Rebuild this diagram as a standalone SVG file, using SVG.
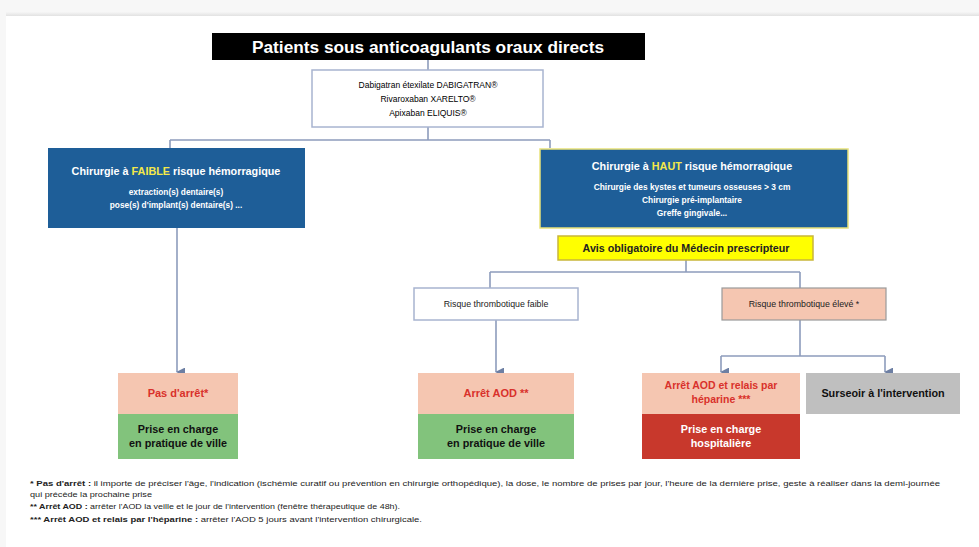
<svg xmlns="http://www.w3.org/2000/svg" width="979" height="547" viewBox="0 0 979 547">
<defs>
<linearGradient id="sh" x1="0" y1="0" x2="0" y2="1"><stop offset="0" stop-color="#f6f6f6"/><stop offset="1" stop-color="#d8d8d8"/></linearGradient>
<marker id="ar" viewBox="0 0 10 10" refX="5" refY="9" markerWidth="9" markerHeight="9" orient="auto-start-reverse" markerUnits="userSpaceOnUse"><path d="M0,0 L10,0 L5,10 Z" fill="#6d7fa3"/></marker>
<style>
text{font-family:"Liberation Sans",Arial,sans-serif;text-anchor:middle}
.b{font-weight:bold}
.w{fill:#ffffff}
.blue{fill:#1e5e98}
.sal{fill:#f5c6b1}
.grn{fill:#82c37c}
.c{fill:none;stroke:#8d9cbc;stroke-width:1.6}
.fn{text-anchor:start;font-size:8px;fill:#222}
</style>
</defs>
<rect width="979" height="547" fill="#f7f7f7"/>
<rect x="6" y="12" width="973" height="6" fill="url(#sh)"/>
<rect x="6" y="16" width="973" height="531" fill="#ffffff"/>

<g id="connectors">
<path class="c" d="M428,60 V70"/>
<path class="c" d="M428,127 V140 M170,140 H550 M170,140 V148 M550,140 V148"/>
<path class="c" d="M177,228 V372" marker-end="url(#ar)"/>
<path class="c" d="M686,260 V272 M490,272 H800 M490,272 V288 M800,272 V288"/>
<path class="c" d="M496,320 V372" marker-end="url(#ar)"/>
<path class="c" d="M800,320 V356 M721,356 H885"/>
<path class="c" d="M721,356 V372" marker-end="url(#ar)"/>
<path class="c" d="M885,356 V372" marker-end="url(#ar)"/>
</g>

<g id="title">
<rect x="212" y="33" width="433" height="27" fill="#000"/>
<text x="428" y="52.5" class="b w" font-size="16" font-weight="900" textLength="352" lengthAdjust="spacingAndGlyphs">Patients sous anticoagulants oraux directs</text>
</g>

<g id="drugs">
<rect x="312" y="70" width="231" height="57" fill="#fff" stroke="#a8b4d0" stroke-width="1.5"/>
<text x="428" y="88" font-size="8.5">Dabigatran étexilate DABIGATRAN®</text>
<text x="428" y="102" font-size="8.5">Rivaroxaban XARELTO®</text>
<text x="428" y="116" font-size="8.5">Apixaban ELIQUIS®</text>
</g>

<g id="faible">
<rect x="48" y="148" width="257" height="80" class="blue"/>
<text x="176" y="175" class="b w" font-size="10.8">Chirurgie à <tspan fill="#f3e84a">FAIBLE</tspan> risque hémorragique</text>
<text x="176" y="195" class="b w" font-size="8.3">extraction(s) dentaire(s)</text>
<text x="176" y="208" class="b w" font-size="8.3">pose(s) d'implant(s) dentaire(s) ...</text>
</g>

<g id="haut">
<rect x="540" y="149" width="308" height="79" class="blue" stroke="#e9e27a" stroke-width="1.5"/>
<text x="692" y="170" class="b w" font-size="10.8">Chirurgie à <tspan fill="#f3e84a">HAUT</tspan> risque hémorragique</text>
<text x="692" y="190" class="b w" font-size="8.4">Chirurgie des kystes et tumeurs osseuses &gt; 3 cm</text>
<text x="692" y="203" class="b w" font-size="8.4">Chirurgie pré-implantaire</text>
<text x="692" y="216" class="b w" font-size="8.4">Greffe gingivale...</text>
</g>

<g id="avis">
<rect x="558" y="236" width="255" height="24" fill="#ffff00" stroke="#c9b63a" stroke-width="1.5"/>
<text x="686" y="252" class="b" font-size="10.7" fill="#222">Avis obligatoire du Médecin prescripteur</text>
</g>

<g id="rfaible">
<rect x="414" y="288" width="164" height="32" fill="#fff" stroke="#a8b4d0" stroke-width="1.5"/>
<text x="496" y="307" font-size="8.8" fill="#222">Risque thrombotique faible</text>
</g>

<g id="releve">
<rect x="722" y="288" width="164" height="32" class="sal" stroke="#9a9a9a" stroke-width="1.2"/>
<text x="804" y="307" font-size="8.8" fill="#222">Risque thrombotique élevé *</text>
</g>

<g id="pasarret">
<rect x="118" y="373" width="120" height="41" class="sal"/>
<rect x="118" y="414" width="120" height="45" class="grn"/>
<text x="178" y="397" class="b" font-size="11" fill="#d9312b">Pas d'arrêt*</text>
<text x="178" y="433" class="b" font-size="10.8" fill="#111">Prise en charge</text>
<text x="178" y="447" class="b" font-size="10.8" fill="#111">en pratique de ville</text>
</g>

<g id="arretaod">
<rect x="418" y="373" width="156" height="41" class="sal"/>
<rect x="418" y="414" width="156" height="45" class="grn"/>
<text x="496" y="397" class="b" font-size="11" fill="#d9312b">Arrêt AOD **</text>
<text x="496" y="433" class="b" font-size="10.8" fill="#111">Prise en charge</text>
<text x="496" y="447" class="b" font-size="10.8" fill="#111">en pratique de ville</text>
</g>

<g id="relais">
<rect x="642" y="373" width="158" height="41" class="sal"/>
<rect x="642" y="414" width="158" height="45" fill="#c8382c"/>
<text x="721" y="389" class="b" font-size="10.5" fill="#d9312b">Arrêt AOD et relais par</text>
<text x="721" y="403" class="b" font-size="10.5" fill="#d9312b">héparine ***</text>
<text x="721" y="433" class="b w" font-size="10.8">Prise en charge</text>
<text x="721" y="447" class="b w" font-size="10.8">hospitalière</text>
</g>

<g id="surseoir">
<rect x="806" y="373" width="154" height="41" fill="#bfbfbf"/>
<text x="883" y="397" class="b" font-size="10.8" fill="#111">Surseoir à l'intervention</text>
</g>

<g id="notes">
<text x="30" y="486" class="fn" textLength="910" lengthAdjust="spacingAndGlyphs"><tspan font-weight="bold">* Pas d'arrêt :</tspan> il importe de préciser l'âge, l'indication (ischémie curatif ou prévention en chirurgie orthopédique), la dose, le nombre de prises par jour, l'heure de la dernière prise, geste à réaliser dans la demi-journée</text>
<text x="30" y="497" class="fn" textLength="122" lengthAdjust="spacingAndGlyphs">qui précède la prochaine prise</text>
<text x="30" y="509" class="fn" textLength="370" lengthAdjust="spacingAndGlyphs"><tspan font-weight="bold">** Arrêt AOD :</tspan> arrêter l'AOD la veille et le jour de l'intervention (fenêtre thérapeutique de 48h).</text>
<text x="30" y="522" class="fn" textLength="392" lengthAdjust="spacingAndGlyphs"><tspan font-weight="bold">*** Arrêt AOD et relais par l'héparine :</tspan> arrêter l'AOD 5 jours avant l'intervention chirurgicale.</text>
</g>
</svg>
